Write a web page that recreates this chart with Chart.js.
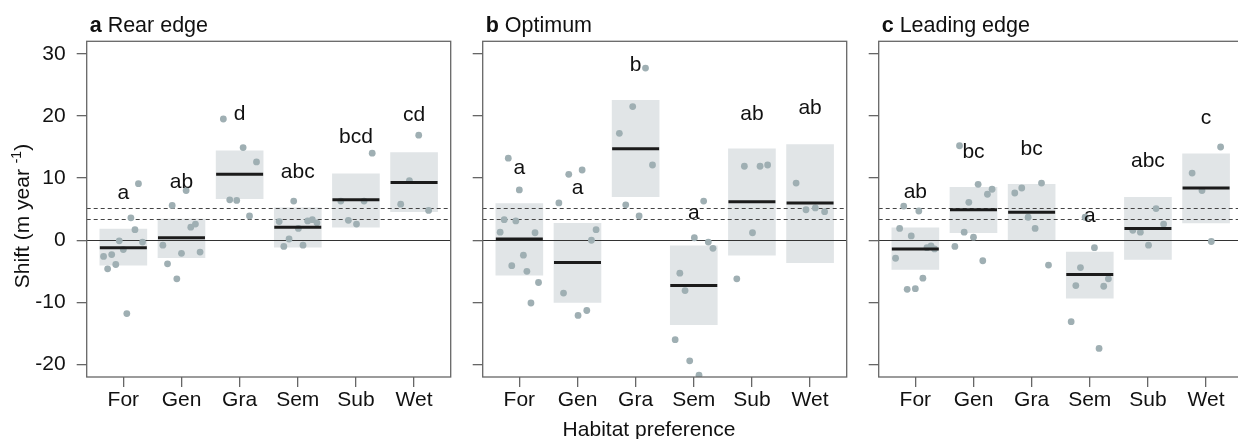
<!DOCTYPE html>
<html>
<head>
<meta charset="utf-8">
<script src="https://cdn.jsdelivr.net/npm/chart.js@4.4.1/dist/chart.umd.min.js"></script>
<style>
  html, body { margin: 0; padding: 0; background: #fff; overflow: hidden; }
  #wrap { position: relative; width: 1238px; height: 439px; }
  canvas { position: absolute; top: 0; }
</style>
</head>
<body>
<div id="wrap">
  <canvas id="chartA" width="462" height="439" style="left:0px"></canvas>
  <canvas id="chartB" width="396" height="439" style="left:462px"></canvas>
  <canvas id="chartC" width="396" height="439" style="left:858px"></canvas>
</div>
<script>
const habitats = ['For', 'Gen', 'Gra', 'Sem', 'Sub', 'Wet'];
const yTicks = [-20, -10, 0, 10, 20, 30];
const refLines = [3.4, 5.2];

// a Rear edge
const rearLow = [-4.0, -2.8, 6.7, -1.1, 2.1, 4.6];
const rearHigh = [1.8, 3.4, 14.4, 5.2, 10.7, 14.1];
const rearMean = [-1.2, 0.4, 10.6, 2.1, 6.5, 9.3];
const rearLetters = ['a', 'ab', 'd', 'abc', 'bcd', 'cd'];
const rearLetterY = [7.5, 9.4, 20.2, 11.0, 16.6, 20.1];
const rearPoints = [
  [0.66, -2.6], [0.73, -4.6], [0.80, -2.3], [0.87, -3.9], [0.93, -0.1], [1.00, -1.5],
  [1.06, -11.8], [1.13, 3.6], [1.20, 1.7], [1.26, 9.1], [1.33, -0.3],
  [1.68, -0.8], [1.76, -3.8], [1.84, 5.6], [1.92, -6.2], [2.00, -2.1], [2.08, 8.0],
  [2.16, 2.1], [2.24, 2.6], [2.32, -1.9],
  [2.72, 19.5], [2.83, 6.5], [2.95, 6.4], [3.06, 14.9], [3.17, 3.9], [3.29, 12.6],
  [3.68, 3.0], [3.76, -1.0], [3.85, 0.2], [3.93, 6.3], [4.01, 1.9], [4.09, -0.8],
  [4.17, 3.1], [4.25, 3.3], [4.33, 2.8],
  [4.74, 6.3], [4.87, 3.2], [5.01, 2.6], [5.14, 6.3], [5.28, 14.0],
  [5.77, 5.8], [5.92, 9.6], [6.08, 16.9], [6.25, 4.8]
];

// b Optimum
const optLow = [-5.6, -10.0, 7.0, -13.6, -2.4, -3.6];
const optHigh = [5.9, 2.7, 22.5, -0.9, 14.7, 15.4];
const optMean = [0.2, -3.6, 14.7, -7.3, 6.2, 6.0];
const optLetters = ['a', 'a', 'b', 'a', 'ab', 'ab'];
const optLetterY = [11.6, 8.3, 28.2, 4.3, 20.3, 21.3];
const optPoints = [
  [0.67, 1.3], [0.74, 3.3], [0.81, 13.2], [0.87, -4.1], [0.94, 3.1], [1.00, 8.1],
  [1.07, -2.4], [1.13, -5.0], [1.20, -10.1], [1.27, 1.2], [1.33, -6.8],
  [1.68, 6.0], [1.76, -8.5], [1.85, 10.6], [2.01, -12.1], [2.08, 11.3], [2.16, -11.3],
  [2.24, 0.0], [2.32, 1.7],
  [2.72, 17.2], [2.83, 5.7], [2.95, 21.5], [3.06, 3.9], [3.17, 27.7], [3.29, 12.1],
  [3.68, -16.0], [3.76, -5.3], [3.85, -8.1], [3.93, -19.4], [4.01, 0.4], [4.09, -21.7],
  [4.17, 6.3], [4.25, -0.3], [4.33, -1.3],
  [4.74, -6.2], [4.87, 11.9], [5.01, 1.2], [5.14, 11.9], [5.27, 12.1],
  [5.76, 9.2], [5.93, 4.9], [6.09, 5.2], [6.25, 4.6]
];

// c Leading edge
const leadLow = [-4.7, 1.2, 0.0, -9.3, -3.1, 2.8];
const leadHigh = [2.0, 8.5, 9.0, -1.9, 6.9, 13.9];
const leadMean = [-1.4, 4.9, 4.5, -5.5, 1.9, 8.4];
const leadLetters = ['ab', 'bc', 'bc', 'a', 'abc', 'c'];
const leadLetterY = [7.7, 14.2, 14.7, 3.9, 12.7, 19.7];
const leadPoints = [
  [0.66, -2.9], [0.73, 1.9], [0.80, 5.5], [0.86, -7.9], [0.93, 0.7], [1.00, -7.8],
  [1.06, 4.7], [1.13, -6.1], [1.20, -1.2], [1.27, -0.9], [1.33, -1.4],
  [1.68, -1.0], [1.76, 15.2], [1.84, 1.3], [1.92, 6.1], [2.00, 0.5], [2.08, 9.0],
  [2.16, -3.3], [2.24, 7.4], [2.32, 8.2],
  [2.71, 7.6], [2.83, 8.4], [2.94, 3.7], [3.06, 1.9], [3.17, 9.2], [3.29, -4.0],
  [3.68, -13.1], [3.76, -7.3], [3.84, -4.4], [3.92, 3.7], [4.08, -1.2], [4.16, -17.4],
  [4.24, -7.4], [4.32, -6.2],
  [4.74, 1.6], [4.87, 1.3], [5.01, -0.8], [5.14, 5.1], [5.27, 2.6],
  [5.76, 10.8], [5.93, 8.0], [6.09, -0.2], [6.25, 15.0]
];

const FONT = '"Liberation Sans", Arial, sans-serif';

const panelPlugin = {
  id: 'panel',
  afterDatasetDraw(chart, args, opts) {
    if (args.index !== 0) return;
    const { ctx, chartArea: a, scales: { y } } = chart;
    ctx.save();
    ctx.beginPath();
    ctx.rect(a.left, a.top, a.right - a.left, a.bottom - a.top);
    ctx.clip();
    ctx.strokeStyle = '#444';
    ctx.lineWidth = 1;
    ctx.setLineDash([4, 3]);
    refLines.forEach(v => {
      const py = Math.round(y.getPixelForValue(v)) + 0.5;
      ctx.beginPath(); ctx.moveTo(a.left, py); ctx.lineTo(a.right, py); ctx.stroke();
    });
    ctx.setLineDash([]);
    ctx.strokeStyle = '#333';
    const p0 = Math.round(y.getPixelForValue(0)) + 0.5;
    ctx.beginPath(); ctx.moveTo(a.left, p0); ctx.lineTo(a.right, p0); ctx.stroke();
    ctx.restore();
  },
  afterDraw(chart, args, opts) {
    const { ctx, chartArea: a, scales: { x, y } } = chart;
    ctx.save();
    // box
    ctx.strokeStyle = '#666';
    ctx.lineWidth = 1.3;
    ctx.strokeRect(a.left, a.top, a.right - a.left, a.bottom - a.top);
    // letters
    ctx.fillStyle = '#111';
    ctx.font = '21px ' + FONT;
    ctx.textAlign = 'center';
    ctx.textBaseline = 'middle';
    opts.letters.forEach((t, i) => {
      ctx.fillText(t, x.getPixelForValue(i + 1), y.getPixelForValue(opts.letterY[i]));
    });
    // title
    ctx.textAlign = 'left';
    ctx.textBaseline = 'alphabetic';
    ctx.font = 'bold 21.5px ' + FONT;
    ctx.fillText(opts.tag, a.left + 3, 31.5);
    const w = ctx.measureText(opts.tag + ' ').width;
    ctx.font = '21.5px ' + FONT;
    ctx.fillText(opts.title, a.left + 3 + w, 31.5);
    // axis titles
    if (opts.yTitle) {
      ctx.save();
      ctx.translate(29, 216);
      ctx.rotate(-Math.PI / 2);
      ctx.font = '21px ' + FONT;
      const s1 = 'Shift (m year ';
      const s2 = '-1';
      const s3 = ')';
      const w1 = ctx.measureText(s1).width;
      const w3 = ctx.measureText(s3).width;
      ctx.font = '14px ' + FONT;
      const w2 = ctx.measureText(s2).width;
      const total = w1 + w2 + w3;
      let cx = -total / 2;
      ctx.textAlign = 'left';
      ctx.font = '21px ' + FONT;
      ctx.fillText(s1, cx, 0);
      cx += w1;
      ctx.font = '14px ' + FONT;
      ctx.fillText(s2, cx, -8);
      cx += w2;
      ctx.font = '21px ' + FONT;
      ctx.fillText(s3, cx, 0);
      ctx.restore();
    }
    if (opts.xTitle) {
      ctx.font = '21px ' + FONT;
      ctx.textAlign = 'center';
      ctx.textBaseline = 'alphabetic';
      ctx.fillText(opts.xTitle, opts.xTitleX, 436);
    }
    ctx.restore();
  }
};

function makePanel(id, cfg) {
  const boxes = habitats.map((h, i) => ({ x: i + 1, y: [cfg.low[i], cfg.high[i]] }));
  const means = habitats.map((h, i) => ({ x: i + 1, y: cfg.mean[i] }));
  const pts = cfg.points.map(p => ({ x: p[0], y: p[1] }));
  new Chart(document.getElementById(id), {
    data: {
      datasets: [
        {
          type: 'bar', data: boxes, order: 3,
          backgroundColor: '#e1e5e7', borderWidth: 0, barThickness: 47
        },
        {
          type: 'scatter', data: pts, order: 2,
          pointRadius: 3.4, pointBackgroundColor: '#9fafb3', pointBorderWidth: 0
        },
        {
          type: 'scatter', data: means, order: 1,
          pointStyle: 'line', pointRadius: 23.5, pointBorderWidth: 3,
          pointBorderColor: '#1b1b1b'
        }
      ]
    },
    options: {
      responsive: false,
      animation: false,
      layout: { autoPadding: false, padding: { top: 41.3, right: cfg.padRight, left: 0, bottom: 0 } },
      plugins: {
        legend: { display: false },
        tooltip: { enabled: false },
        panel: cfg.panel
      },
      scales: {
        x: {
          type: 'linear', min: 0.37, max: 6.63, offset: false,
          afterBuildTicks: s => { s.ticks = habitats.map((h, i) => ({ value: i + 1 })); },
          afterFit: s => { s.height = 62; s.paddingLeft = 0; s.paddingRight = 0; },
          grid: { drawOnChartArea: false, offset: false, tickLength: 10, color: '#666', lineWidth: 1.3 },
          border: { display: false },
          ticks: {
            padding: 1, color: '#111', font: { family: FONT, size: 21 },
            maxRotation: 0, autoSkip: false,
            callback: v => habitats[Math.round(v) - 1]
          }
        },
        y: {
          type: 'linear', min: -22, max: 32,
          afterBuildTicks: s => { s.ticks = yTicks.map(v => ({ value: v })); },
          afterFit: s => { s.width = cfg.yWidth; s.paddingTop = 0; s.paddingBottom = 0; },
          grid: { drawOnChartArea: false, tickLength: 10, color: '#666', lineWidth: 1.3 },
          border: { display: false },
          ticks: {
            display: cfg.yLabels, padding: 11, color: '#111', font: { family: FONT, size: 21 }
          }
        }
      }
    },
    plugins: [panelPlugin]
  });
}

makePanel('chartA', {
  low: rearLow, high: rearHigh, mean: rearMean, points: rearPoints,
  yWidth: 86.7, padRight: 11.3, yLabels: true,
  panel: { letters: rearLetters, letterY: rearLetterY, tag: 'a', title: 'Rear edge', yTitle: true }
});
makePanel('chartB', {
  low: optLow, high: optHigh, mean: optMean, points: optPoints,
  yWidth: 20.7, padRight: 11.3, yLabels: false,
  panel: { letters: optLetters, letterY: optLetterY, tag: 'b', title: 'Optimum',
           xTitle: 'Habitat preference', xTitleX: 649 - 462 }
});
makePanel('chartC', {
  low: leadLow, high: leadHigh, mean: leadMean, points: leadPoints,
  yWidth: 20.7, padRight: 11.3, yLabels: false,
  panel: { letters: leadLetters, letterY: leadLetterY, tag: 'c', title: 'Leading edge' }
});
</script>
</body>
</html>
